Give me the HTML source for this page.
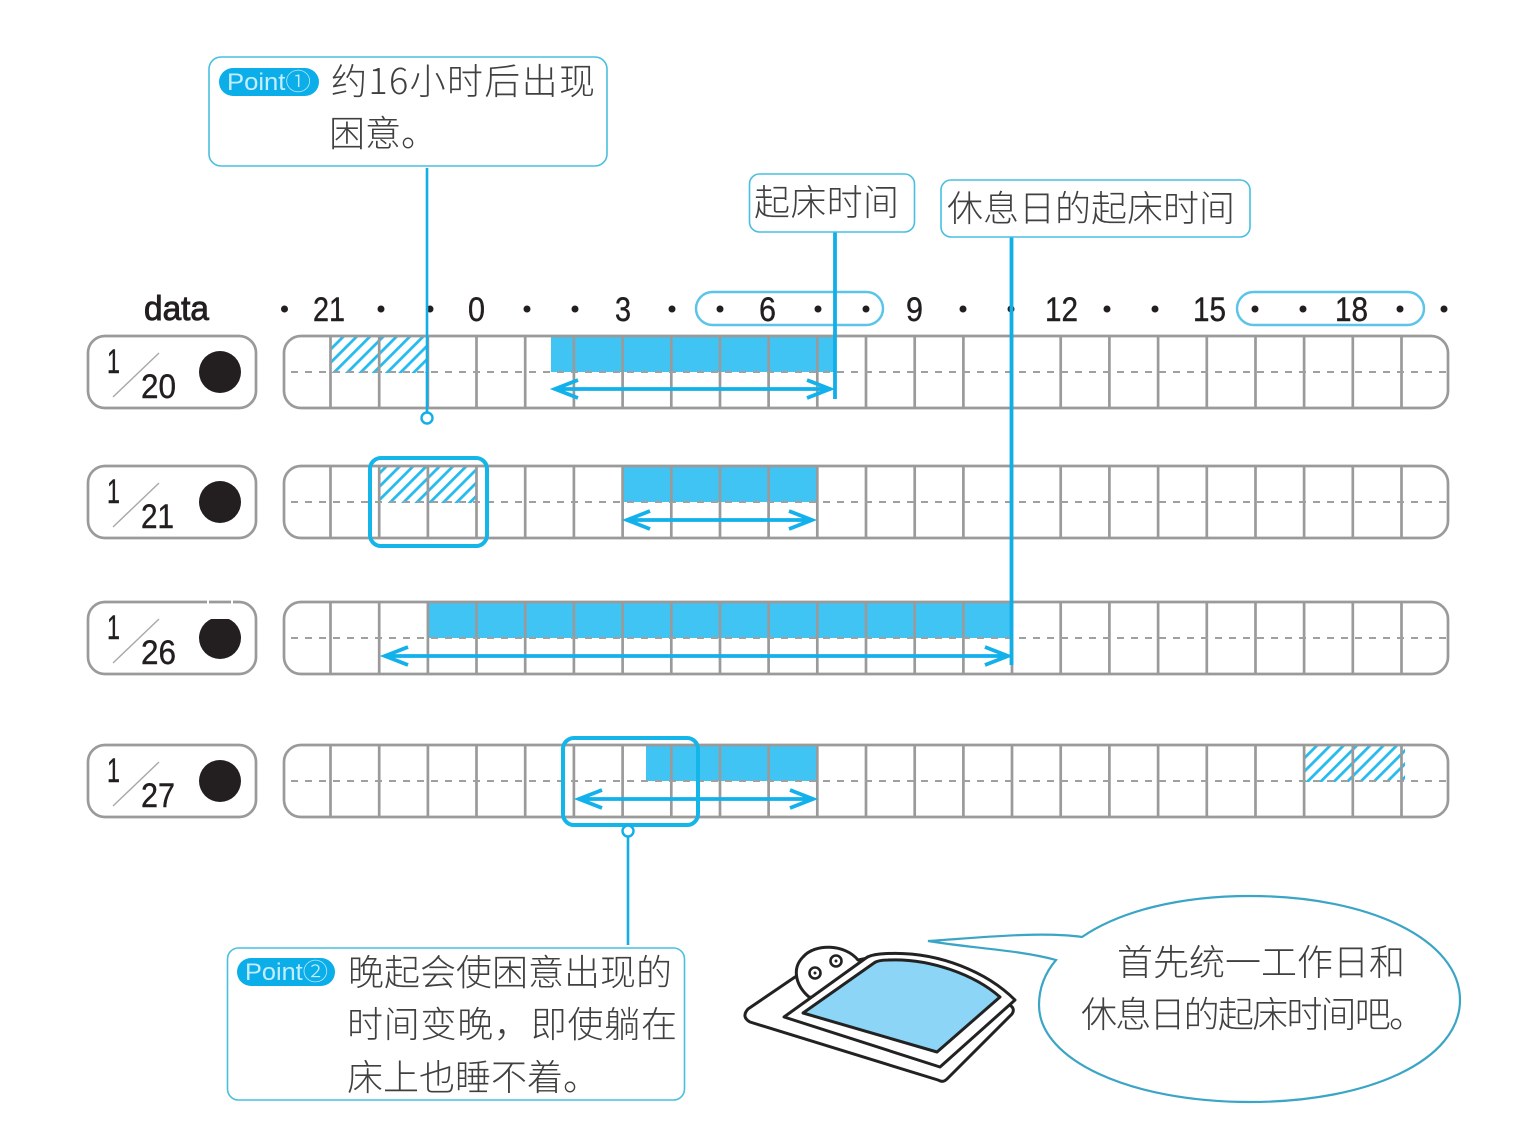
<!DOCTYPE html>
<html lang="zh">
<head>
<meta charset="utf-8">
<title>Sleep log</title>
<style>
html,body{margin:0;padding:0;background:#fff;width:1536px;height:1137px;overflow:hidden}
svg{display:block}
.cj{font-family:"Liberation Sans","Noto Sans CJK SC",sans-serif;font-size:36px;fill:#404040;font-weight:300}
.cjd{font-family:"Noto Sans CJK SC",sans-serif;font-size:36px;fill:#404040;font-weight:300}
.pt{font-family:"Liberation Sans","Noto Sans CJK SC",sans-serif;font-size:24px;fill:#c4eeff;font-weight:300}
.hd{font-family:"Liberation Sans",sans-serif;font-size:34px;fill:#231f20;stroke:#231f20;stroke-width:.4}
</style>
</head>
<body>
<svg width="1536" height="1137" viewBox="0 0 1536 1137" xmlns="http://www.w3.org/2000/svg">
<defs>
<pattern id="h" width="9.400" height="9.400" patternUnits="userSpaceOnUse" patternTransform="rotate(45)">
<rect width="9.400" height="9.400" fill="#fff"/><rect x="0" width="2.800" height="9.400" fill="#25bbee"/>
</pattern>
<g id="grid" fill="none" stroke="#9a9a9a" stroke-width="2.700">
<path d="M330.500 0V72M379.200 0V72M427.900 0V72M476.500 0V72M525.200 0V72M573.900 0V72M622.600 0V72M671.300 0V72M720 0V72M768.600 0V72M817.300 0V72M866 0V72M914.700 0V72M963.400 0V72M1012 0V72M1060.700 0V72M1109.400 0V72M1158.100 0V72M1206.800 0V72M1255.500 0V72M1304.100 0V72M1352.800 0V72M1401.500 0V72"/>
<rect x="284" y="0" width="1164" height="72" rx="17"/>
<path d="M291 36H1448" stroke="#a0a0a0" stroke-width="2" stroke-dasharray="7 7"/>
<rect x="88" y="0" width="168" height="72" rx="17"/>
<path d="M113 61L159 17" stroke="#a8a8a8" stroke-width="1.400"/>
</g>
</defs>

<!-- fills -->
<rect x="331" y="337" width="97" height="36" fill="url(#h)"/>
<rect x="551" y="337" width="284" height="35" fill="#40c4f4"/>
<rect x="379" y="467" width="97" height="36" fill="url(#h)"/>
<rect x="622" y="467" width="195" height="35" fill="#40c4f4"/>
<rect x="428" y="603" width="584" height="35" fill="#40c4f4"/>
<rect x="646" y="746" width="171" height="35" fill="#40c4f4"/>
<rect x="1305" y="746" width="100" height="36" fill="url(#h)"/>

<!-- rows -->
<use href="#grid" y="336"/>
<use href="#grid" y="466"/>
<use href="#grid" y="602"/>
<use href="#grid" y="745"/>

<!-- row labels -->
<text x="107" y="373" class="hd" textLength="13" lengthAdjust="spacingAndGlyphs">1</text><text x="141" y="398" class="hd" textLength="35" lengthAdjust="spacingAndGlyphs">20</text>
<text x="107" y="503" class="hd" textLength="13" lengthAdjust="spacingAndGlyphs">1</text><text x="141" y="528" class="hd" textLength="33" lengthAdjust="spacingAndGlyphs">21</text>
<text x="107" y="639" class="hd" textLength="13" lengthAdjust="spacingAndGlyphs">1</text><text x="141" y="664" class="hd" textLength="35" lengthAdjust="spacingAndGlyphs">26</text>
<text x="107" y="782" class="hd" textLength="13" lengthAdjust="spacingAndGlyphs">1</text><text x="141" y="807" class="hd" textLength="34" lengthAdjust="spacingAndGlyphs">27</text>
<g fill="#231f20">
<circle cx="220" cy="372" r="21"/><circle cx="220" cy="502" r="21"/><circle cx="220" cy="638" r="21"/><circle cx="220" cy="781" r="21"/>
</g>
<rect x="205" y="610" width="30" height="9" fill="#fff"/>
<rect x="207" y="600" width="2" height="5" fill="#fff"/><rect x="231" y="600" width="2" height="5" fill="#fff"/>

<!-- header -->
<text x="144" y="320" class="hd" font-size="33" textLength="65" lengthAdjust="spacingAndGlyphs" style="stroke-width:.9">data</text>
<text x="313" y="321" class="hd" textLength="32" lengthAdjust="spacingAndGlyphs">21</text>
<text x="468" y="321" class="hd" textLength="17" lengthAdjust="spacingAndGlyphs">0</text>
<text x="615" y="321" class="hd" textLength="16" lengthAdjust="spacingAndGlyphs">3</text>
<text x="759" y="321" class="hd" textLength="17" lengthAdjust="spacingAndGlyphs">6</text>
<text x="906" y="321" class="hd" textLength="17" lengthAdjust="spacingAndGlyphs">9</text>
<text x="1045" y="321" class="hd" textLength="33" lengthAdjust="spacingAndGlyphs">12</text>
<text x="1193" y="321" class="hd" textLength="33" lengthAdjust="spacingAndGlyphs">15</text>
<text x="1335" y="321" class="hd" textLength="33" lengthAdjust="spacingAndGlyphs">18</text>
<g fill="#231f20">
<circle cx="284.500" cy="309" r="3.500"/><circle cx="381" cy="309" r="3.500"/><circle cx="430" cy="309" r="3.500"/><circle cx="527" cy="309" r="3.500"/><circle cx="575" cy="309" r="3.500"/><circle cx="672" cy="309" r="3.500"/><circle cx="720" cy="309" r="3.500"/><circle cx="818" cy="309" r="3.500"/><circle cx="866" cy="309" r="3.500"/><circle cx="963" cy="309" r="3.500"/><circle cx="1011" cy="309" r="3.500"/><circle cx="1107" cy="309" r="3.500"/><circle cx="1155" cy="309" r="3.500"/><circle cx="1255" cy="309" r="3.500"/><circle cx="1303" cy="309" r="3.500"/><circle cx="1400" cy="309" r="3.500"/><circle cx="1444" cy="309" r="3.500"/>
</g>
<g fill="none" stroke="#5cc4e8" stroke-width="2.500">
<rect x="696" y="292" width="187" height="33" rx="16.500"/>
<rect x="1237" y="292" width="187" height="33" rx="16.500"/>
</g>

<!-- arrows -->
<g fill="none" stroke="#12b1ec" stroke-width="3.800">
<path d="M555 389H830M578 380L555 389L578 398M807 380L830 389L807 398"/>
<path d="M627 520H812M650 511L627 520L650 529M789 511L812 520L789 529"/>
<path d="M385 656H1008M408 647L385 656L408 665M985 647L1008 656L985 665"/>
<path d="M579 799H813M602 790L579 799L602 808M790 790L813 799L790 808"/>
</g>

<!-- highlight boxes -->
<g fill="none" stroke="#14b5e8" stroke-width="4">
<rect x="370" y="458" width="117" height="88" rx="11"/>
<rect x="563" y="738" width="135" height="87" rx="11"/>
</g>

<!-- leader lines -->
<g stroke="#12aee8" fill="none">
<path d="M427 168V413" stroke-width="2.600"/>
<circle cx="427" cy="418" r="5.500" stroke-width="2.400" fill="#fff"/>
<path d="M835 232V399" stroke-width="3.800"/>
<path d="M1011.500 237V665" stroke-width="3.800"/>
<path d="M628 837V945" stroke-width="2.600"/>
<circle cx="628" cy="831" r="5.500" stroke-width="2.400" fill="#fff"/>
</g>

<!-- callouts -->
<g fill="#fff" stroke="#48bfe0" stroke-width="1.600">
<rect x="209" y="57" width="398" height="109" rx="12"/>
<rect x="749.500" y="174" width="165" height="58" rx="10"/>
<rect x="941" y="180" width="309" height="57" rx="10"/>
<rect x="227.500" y="948" width="457" height="152" rx="11"/>
</g>
<rect x="219" y="68" width="100" height="28" rx="14" fill="#0caeea"/>
<rect x="237" y="958" width="98" height="28" rx="14" fill="#0caeea"/>
<text x="227" y="90" class="pt" textLength="84" lengthAdjust="spacingAndGlyphs">Point①</text>
<text x="245" y="980" class="pt" textLength="83" lengthAdjust="spacingAndGlyphs">Point②</text>
<text x="331" y="94" class="cjd" textLength="264" lengthAdjust="spacing">约16小时后出现</text>
<text x="329" y="146" class="cj">困意。</text>
<text x="754" y="215" class="cj" textLength="145">起床时间</text>
<text x="947" y="221" class="cj" textLength="288">休息日的起床时间</text>
<text x="348" y="985" class="cj" textLength="324">晚起会使困意出现的</text>
<text x="347" y="1037" class="cj" textLength="330">时间变晚，即使躺在</text>
<text x="347" y="1090" class="cj">床上也睡不着。</text>

<!-- tablet character -->
<g stroke="#222" stroke-width="3" stroke-linejoin="round" stroke-linecap="round" fill="#fff">
<path d="M795 977L748 1009Q741 1017 750 1022L938 1080Q943 1083 947 1079L1012 1014Q1016 1008 1008 1004L860 960Z"/>
<path d="M809 997C795 985 792 968 803 957C815 943 845 944 858 960L868 958L830 1000Z"/>
<circle cx="815" cy="973" r="5.500" stroke-width="2.600"/><circle cx="815" cy="973" r="1" fill="#222" stroke-width="1"/>
<circle cx="836" cy="961" r="5.500" stroke-width="2.600"/><circle cx="836" cy="961" r="1" fill="#222" stroke-width="1"/>
<path d="M784 1017L866 958Q870 955 880 954C940 949 990 975 1015 1000L940 1067Z"/>
<path d="M803 1013L874 963Q878 960 888 960C930 958 975 975 1000 997L937 1052Z" fill="#8cd5f6"/>
</g>

<!-- speech bubble -->
<path d="M928 941C975 938 1040 931 1082 937C1120 911 1180 896 1250 896C1370 896 1460 940 1460 1000C1460 1060 1370 1102 1250 1102C1130 1102 1039 1060 1039 1005C1039 988 1045 973 1056 960C1020 950 970 948 928 941Z" fill="#fff" stroke="#3ba5c6" stroke-width="2.200"/>
<text x="1117" y="975" class="cj" textLength="288">首先统一工作日和</text>
<text x="1081" y="1027" class="cj" textLength="344">休息日的起床时间吧。</text>
</svg>
</body>
</html>
